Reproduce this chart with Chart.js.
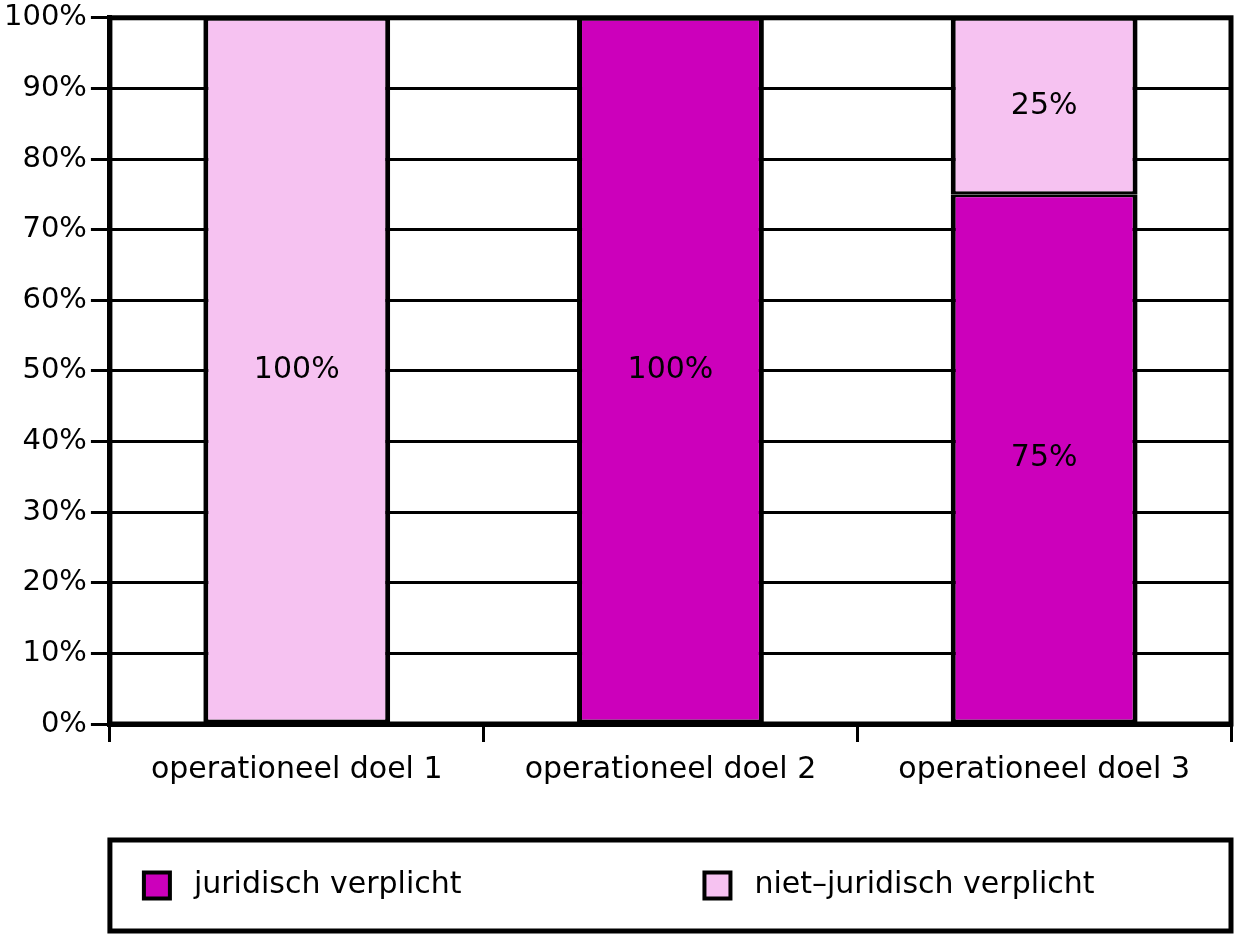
<!DOCTYPE html>
<html>
<head>
<meta charset="utf-8">
<script src="https://cdn.jsdelivr.net/npm/chart.js@4/dist/chart.umd.min.js"></script>
<style>
  body { margin: 0; background: #fff; }
  #wrap { width: 1235px; height: 937px; position: relative; }
</style>
</head>
<body>
<div id="wrap"><canvas id="chart"></canvas></div>
<script>
  const categories = ['operationeel doel 1', 'operationeel doel 2', 'operationeel doel 3'];
  const juridisch = [null, 100, 75];
  const nietJuridisch = [100, null, 25];
  const seriesNames = ['juridisch verplicht', 'niet\u2013juridisch verplicht'];
  const seriesColors = ['#CC00BB', '#F6C2F1'];

  const FONT = '"DejaVu Sans", sans-serif';
  Chart.defaults.font.family = FONT;
  Chart.defaults.font.size = 30;
  Chart.defaults.color = '#000';

  // kader om het plotgebied
  const framePlugin = {
    id: 'frame',
    afterDatasetsDraw(chart) {
      const a = chart.chartArea, ctx = chart.ctx;
      ctx.save();
      ctx.lineWidth = 5;
      ctx.strokeStyle = '#000';
      ctx.strokeRect(a.left, a.top, a.right - a.left, a.bottom - a.top);
      ctx.restore();
    }
  };

  // percentages midden in de staven
  const valueLabels = {
    id: 'valueLabels',
    afterDatasetsDraw(chart) {
      const ctx = chart.ctx;
      ctx.save();
      ctx.font = '30px ' + FONT;
      ctx.fillStyle = '#000';
      ctx.textAlign = 'center';
      ctx.textBaseline = 'middle';
      chart.data.datasets.forEach((ds, i) => {
        chart.getDatasetMeta(i).data.forEach((el, j) => {
          const v = ds.data[j];
          if (v == null) return;
          const p = el.getProps(['x', 'y', 'base'], true);
          ctx.fillText(v + '%', p.x, (p.y + p.base) / 2);
        });
      });
      ctx.restore();
    }
  };

  // legenda in een kader onder de grafiek
  const boxLegend = {
    id: 'boxLegend',
    afterDraw(chart) {
      const ctx = chart.ctx, a = chart.chartArea;
      const top = chart.height - 97, bottom = chart.height - 6;
      const w = a.right - a.left;
      ctx.save();
      ctx.lineWidth = 5;
      ctx.strokeStyle = '#000';
      ctx.strokeRect(a.left, top, w, bottom - top);
      const cy = (top + bottom) / 2;
      ctx.font = '30px ' + FONT;
      ctx.textBaseline = 'middle';
      ctx.textAlign = 'left';
      chart.data.datasets.forEach((ds, i) => {
        const x = a.left + 34 + i * (w / 2);
        ctx.fillStyle = ds.backgroundColor;
        ctx.fillRect(x, cy - 13, 26, 26);
        ctx.lineWidth = 4;
        ctx.strokeRect(x, cy - 13, 26, 26);
        ctx.fillStyle = '#000';
        ctx.fillText(ds.label, x + 50, cy);
      });
      ctx.restore();
    }
  };

  new Chart(document.getElementById('chart'), {
    type: 'bar',
    data: {
      labels: categories,
      datasets: [
        { label: seriesNames[0], data: juridisch, backgroundColor: seriesColors[0] },
        { label: seriesNames[1], data: nietJuridisch, backgroundColor: seriesColors[1] }
      ]
    },
    options: {
      responsive: true,
      maintainAspectRatio: false,
      animation: false,
      layout: { padding: { top: 0, right: 4, left: 0, bottom: 139 } },
      datasets: {
        bar: {
          borderColor: '#000',
          borderWidth: { top: 3, bottom: 3, left: 5, right: 5 },
          borderSkipped: false,
          barPercentage: 0.5,
          categoryPercentage: 1
        }
      },
      plugins: {
        legend: { display: false },
        tooltip: { enabled: false }
      },
      scales: {
        x: {
          stacked: true,
          grid: { drawOnChartArea: false, drawTicks: true, tickLength: 18, color: '#000', lineWidth: 3, offset: true },
          border: { color: '#000', width: 5 },
          ticks: { padding: 10, color: '#000' }
        },
        y: {
          stacked: true,
          min: 0,
          max: 100,
          grid: { color: '#000', lineWidth: 3, tickLength: 19 },
          border: { color: '#000', width: 5 },
          ticks: { stepSize: 10, padding: 4, color: '#000', font: { size: 29, lineHeight: 0.95 }, callback: v => v + '%' }
        }
      }
    },
    plugins: [framePlugin, valueLabels, boxLegend]
  });
</script>
</body>
</html>
